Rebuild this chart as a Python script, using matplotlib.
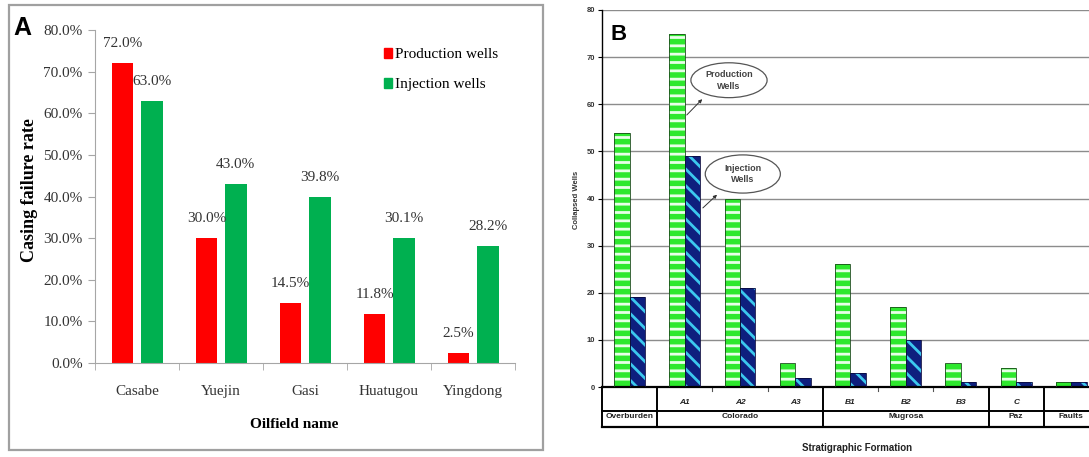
import matplotlib
matplotlib.use('Agg')
import matplotlib.pyplot as plt
import numpy as np
from matplotlib.patches import Ellipse, Rectangle, Patch

# panel A data
oilfields = ['Casabe', 'Yuejin', 'Gasi', 'Huatugou', 'Yingdong']
prod_rate = [0.720, 0.300, 0.145, 0.118, 0.025]
inj_rate = [0.630, 0.430, 0.398, 0.301, 0.282]

# panel B data
units = ['', 'A1', 'A2', 'A3', 'B1', 'B2', 'B3', 'C', '']
groups = ['Overburden', 'Colorado', 'Mugrosa', 'Paz', 'Faults']
group_sizes = [1, 3, 3, 1, 1]
prod_wells = [54, 75, 40, 5, 26, 17, 5, 4, 1]
inj_wells = [19, 49, 21, 2, 3, 10, 1, 1, 1]

plt.rcParams['hatch.linewidth'] = 2.0

W, H = 1089, 457
fig = plt.figure(figsize=(W / 100, H / 100), dpi=100)


def fx(px):
    return px / W


def fy(py):
    return 1 - py / H


serif = 'Liberation Serif'
sans = 'Liberation Sans'

# ---------------- panel A ----------------
axA = fig.add_axes([fx(95), fy(363), (515 - 95) / W, (363 - 30) / H])
x = np.arange(len(oilfields))
axA.bar(x - 0.172, prod_rate, 0.26, color='#ff0000', label='Production wells')
axA.bar(x + 0.175, inj_rate, 0.26, color='#00b050', label='Injection wells')
for xi, v in zip(x - 0.172, prod_rate):
    axA.annotate(f'{v * 100:.1f}%', (xi, v), xytext=(0, 14), textcoords='offset points',
                 ha='center', va='center', family=serif, fontsize=11, color='#333333')
for xi, v in zip(x + 0.175, inj_rate):
    axA.annotate(f'{v * 100:.1f}%', (xi, v), xytext=(0, 14), textcoords='offset points',
                 ha='center', va='center', family=serif, fontsize=11, color='#333333')

axA.set_xlim(-0.5, 4.5)
axA.set_ylim(0, 0.8)
axA.set_yticks(np.arange(0, 0.81, 0.1))
axA.set_yticklabels([f'{t * 100:.1f}%' for t in np.arange(0, 0.81, 0.1)],
                    family=serif, fontsize=11, color='#333333')
axA.set_xticks(x)
axA.set_xticklabels(oilfields, family=serif, fontsize=11, color='#333333')
axA.set_xticks(np.arange(-0.5, 4.6, 1), minor=True)
axA.tick_params(axis='x', which='major', length=0, pad=16)
axA.tick_params(axis='x', which='minor', length=5, color='#a6a6a6', direction='out')
axA.tick_params(axis='y', length=5, color='#a6a6a6', pad=4)
for s in ['top', 'right']:
    axA.spines[s].set_visible(False)
for s in ['left', 'bottom']:
    axA.spines[s].set_color('#a6a6a6')

fig.text(fx(294), fy(425), 'Oilfield name', family=serif, fontsize=11, fontweight='bold',
         ha='center', va='center')
fig.text(fx(30), fy(190), 'Casing failure rate', family=serif, fontsize=13, fontweight='bold',
         ha='center', va='center', rotation=90)
axA.legend(handles=[Patch(color='#ff0000'), Patch(color='#00b050')],
           labels=['Production wells', 'Injection wells'],
           loc='upper left', bbox_to_anchor=(fx(384), fy(48)), bbox_transform=fig.transFigure,
           frameon=False, handlelength=0.55, handleheight=0.6, handletextpad=0.15,
           labelspacing=1.1, borderpad=0, borderaxespad=0,
           prop={'family': serif, 'size': 11})

fig.add_artist(Rectangle((fx(9), fy(450)), (543 - 9) / W, (450 - 5) / H,
                         transform=fig.transFigure, fill=False, edgecolor='#a0a0a0', lw=1.6))
fig.text(fx(13), fy(28), 'A', family=sans, fontsize=18, fontweight='bold', va='center', ha='left')

# ---------------- panel B ----------------
axB = fig.add_axes([fx(602), fy(387), (W - 602) / W, (387 - 10) / H])
xb = np.arange(len(units))
xmax = 8.32
axB.set_xlim(-0.5, xmax)
axB.set_ylim(0, 80)

bw = 0.28
axB.bar(xb - bw / 2, prod_wells, bw, color='#2ee82e', edgecolor='#e8ffe8', hatch='--',
        linewidth=0, zorder=2)
axB.bar(xb + bw / 2, inj_wells, bw, color='#0e1f7e', edgecolor='#3cc8ee', hatch='\\\\',
        linewidth=0, zorder=2)
axB.bar(xb - bw / 2, prod_wells, bw, fill=False, edgecolor='#1a4d1a', linewidth=0.6, zorder=3)
axB.bar(xb + bw / 2, inj_wells, bw, fill=False, edgecolor='#0a0a40', linewidth=0.6, zorder=3)

axB.yaxis.grid(True, color='#8c8c8c', lw=1)
axB.set_axisbelow(True)
axB.set_yticks(np.arange(0, 81, 10))
axB.set_yticklabels([str(t) for t in range(0, 81, 10)], family=sans, fontsize=5.5,
                    fontweight='bold', color='#333333')
axB.tick_params(axis='y', length=3, width=0.8, pad=2)
axB.set_xticks([])
for s in ['top', 'right']:
    axB.spines[s].set_visible(False)
axB.spines['left'].set_linewidth(1.0)
axB.spines['bottom'].set_linewidth(1.6)

# category table under the axis
px_per_unit = 377 / 80
y_sep = -(411 - 387) / px_per_unit
y_bot = -(427 - 387) / px_per_unit
y_row1 = -(403 - 387) / px_per_unit
y_row2 = -(417 - 387) / px_per_unit
axB.plot([-0.5, xmax + 1], [y_sep, y_sep], color='k', lw=1.4, clip_on=False)
axB.plot([-0.5, xmax + 1], [y_bot, y_bot], color='k', lw=1.6, clip_on=False)
edges = np.concatenate([[0], np.cumsum(group_sizes)]) - 0.5
for e in edges:
    if e <= xmax:
        axB.plot([e, e], [0, y_bot], color='k', lw=1.4, clip_on=False)
for i in range(len(units) - 1):
    b = i + 0.5
    if b not in edges:
        axB.plot([b, b], [0, -0.8], color='#555555', lw=0.8, clip_on=False)
for xi, u in zip(xb, units):
    axB.text(xi, y_row1, u, family=sans, fontsize=6, fontweight='bold', style='italic',
             ha='center', va='center', color='#222222')
for g, a, b in zip(groups, edges[:-1], edges[1:]):
    axB.text((a + b) / 2, y_row2, g, family=sans, fontsize=6, fontweight='bold',
             ha='center', va='center', color='#222222')

fig.text(fx(857), fy(448), 'Stratigraphic Formation', family=sans, fontsize=7, fontweight='bold',
         ha='center', va='center', color='#222222')
fig.text(fx(576), fy(200), 'Collapsed Wells', family=sans, fontsize=5.5, fontweight='bold',
         ha='center', va='center', rotation=90, color='#333333')

# callouts
for (cx, cy, w, h, txt, start, end) in [
        (1.80, 65.1, 1.38, 7.4, 'Production\nWells', (1.0, 57.3), (1.35, 61.5)),
        (2.05, 45.2, 1.36, 8.1, 'Injection\nWells', (1.29, 37.6), (1.62, 41.2))]:
    axB.add_patch(Ellipse((cx, cy), w, h, facecolor='white', edgecolor='#555555', lw=0.9, zorder=4))
    axB.text(cx, cy, txt, family=sans, fontsize=6.5, fontweight='bold', ha='center', va='center',
             color='#444444', zorder=5, linespacing=1.4)
    axB.annotate('', xy=end, xytext=start,
                 arrowprops=dict(arrowstyle='-|>', color='#333333', lw=0.7, mutation_scale=5),
                 zorder=5)

fig.text(fx(611), fy(35), 'B', family=sans, fontsize=16, fontweight='bold', va='center', ha='left')

fig.savefig('out.png', dpi=100)
